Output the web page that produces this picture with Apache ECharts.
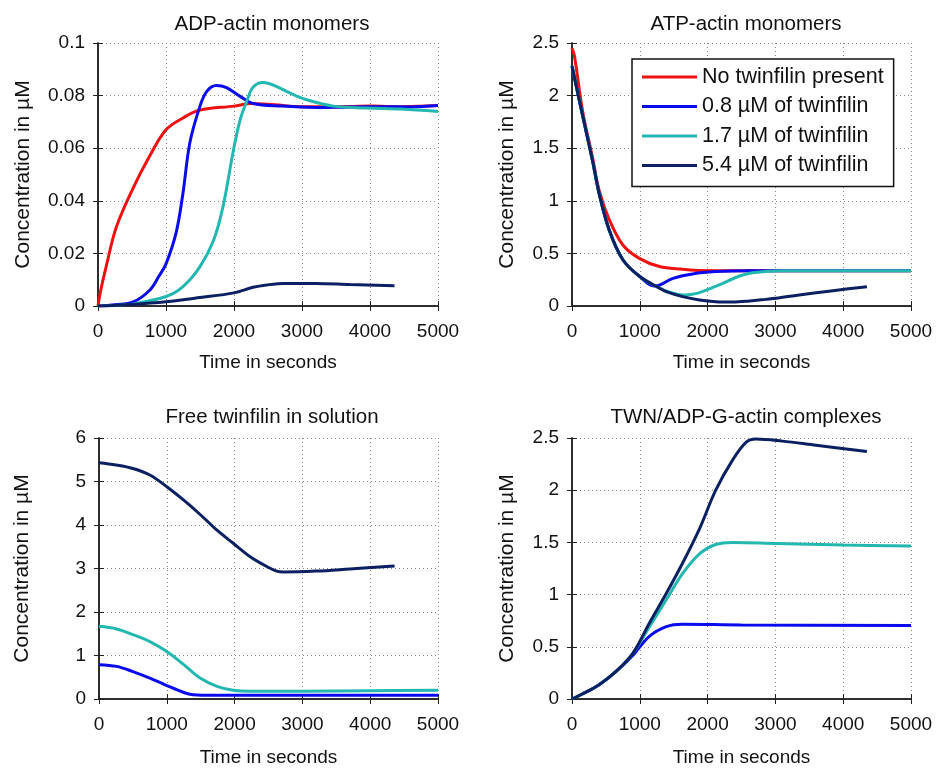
<!DOCTYPE html>
<html>
<head>
<meta charset="utf-8">
<script src="https://cdn.jsdelivr.net/npm/echarts@6/dist/echarts.min.js"></script>
<style>
html,body{margin:0;padding:0;background:#fff;}
#chart{width:936px;height:769px;}
</style>
</head>
<body>
<div id="chart"></div>
<script>
// ---- labels ----
var seriesNames = ['No twinfilin present', '0.8 \u00b5M of twinfilin', '1.7 \u00b5M of twinfilin', '5.4 \u00b5M of twinfilin'];
var panelTitles = ['ADP-actin monomers', 'ATP-actin monomers', 'Free twinfilin in solution', 'TWN/ADP-G-actin complexes'];
var xTicks = [0, 1000, 2000, 3000, 4000, 5000];
var yMax = [0.1, 2.5, 6, 2.5];
var yStep = [0.02, 0.5, 1, 0.5];

// ---- Panel 1: ADP-actin monomers [time s, conc uM] ----
var adpNone = [[0,0],[40,0.006],[120,0.015],[270,0.030],[520,0.045],[760,0.057],[1000,0.067],[1250,0.0715],[1500,0.0745],[2000,0.076],[2250,0.077],[2600,0.0765],[3000,0.0758],[3500,0.0758],[4000,0.076],[4500,0.0758],[5000,0.0762]];
var adp08 = [[0,0],[250,0.0005],[520,0.0016],[760,0.006],[900,0.0115],[1000,0.016],[1150,0.028],[1250,0.043],[1350,0.062],[1500,0.076],[1600,0.0816],[1740,0.0838],[1890,0.083],[2090,0.0797],[2280,0.077],[2700,0.076],[3200,0.0755],[3700,0.0757],[4200,0.0758],[4600,0.0757],[5000,0.0762]];
var adp17 = [[0,0],[250,0.0002],[520,0.0008],[1000,0.0036],[1250,0.0074],[1500,0.015],[1700,0.025],[1840,0.038],[1990,0.059],[2090,0.0708],[2190,0.078],[2280,0.0832],[2430,0.085],[2580,0.084],[2820,0.081],[3070,0.0784],[3460,0.076],[3950,0.0753],[4450,0.0749],[5000,0.074]];
var adp54 = [[0,0],[500,0.0006],[1000,0.0016],[1500,0.0032],[2000,0.005],[2280,0.0071],[2480,0.008],[2730,0.0086],[3200,0.0086],[3700,0.0082],[4360,0.0077]];

// ---- Panel 2: ATP-actin monomers ----
var atpNone = [[0,2.45],[35,2.38],[160,1.84],[300,1.42],[400,1.10],[550,0.82],[750,0.58],[1000,0.45],[1290,0.375],[1630,0.35],[1900,0.337],[2500,0.335],[5000,0.335]];
var atp08 = [[0,2.28],[160,1.80],[300,1.39],[400,1.07],[550,0.72],[750,0.44],[1000,0.28],[1210,0.19],[1300,0.2],[1490,0.263],[1780,0.305],[2120,0.327],[2600,0.336],[5000,0.336]];
var atp17 = [[0,2.28],[160,1.80],[300,1.39],[400,1.07],[550,0.72],[750,0.44],[1000,0.28],[1290,0.17],[1450,0.13],[1630,0.105],[1750,0.11],[1880,0.127],[2170,0.2],[2470,0.285],[2660,0.317],[3100,0.336],[5000,0.336]];
var atp54 = [[0,2.28],[160,1.80],[300,1.39],[400,1.07],[550,0.72],[750,0.44],[1000,0.28],[1290,0.17],[1390,0.136],[1630,0.089],[1880,0.057],[2120,0.041],[2370,0.038],[2620,0.048],[2860,0.063],[3010,0.073],[3350,0.105],[3850,0.146],[4350,0.184]];

// ---- Panel 3: Free twinfilin in solution ----
var free08 = [[0,0.79],[260,0.75],[500,0.63],[750,0.48],[1000,0.31],[1250,0.15],[1390,0.1],[1700,0.085],[5000,0.085]];
var free17 = [[0,1.67],[260,1.61],[500,1.48],[750,1.32],[1000,1.09],[1250,0.79],[1490,0.48],[1740,0.29],[1980,0.2],[2230,0.18],[3000,0.18],[4000,0.19],[5000,0.2]];
var free54 = [[0,5.43],[250,5.38],[500,5.30],[750,5.15],[1000,4.88],[1250,4.57],[1500,4.23],[1740,3.88],[1980,3.58],[2230,3.27],[2480,3.04],[2620,2.94],[2720,2.92],[3200,2.94],[3700,2.99],[4360,3.06]];

// ---- Panel 4: TWN/ADP-G-actin complexes ----
var twn08 = [[0,0],[160,0.05],[400,0.137],[650,0.264],[900,0.42],[1140,0.6],[1390,0.694],[1630,0.717],[2500,0.71],[5000,0.705]];
var twn17 = [[0,0],[160,0.05],[400,0.137],[650,0.264],[900,0.44],[1140,0.69],[1390,0.95],[1630,1.2],[1880,1.39],[2120,1.48],[2370,1.5],[3000,1.49],[4000,1.475],[5000,1.465]];
var twn54 = [[0,0],[160,0.05],[400,0.137],[650,0.264],[900,0.44],[1140,0.726],[1390,1.01],[1630,1.30],[1880,1.63],[2120,2.0],[2370,2.29],[2570,2.46],[2710,2.49],[3100,2.47],[3600,2.43],[4350,2.37]];

var colors = ['#ee1111', '#0a0aee', '#22b8b0', '#0b2060'];
var FONT = 'Liberation Sans, Arial, sans-serif';

var grids = [
  {left: 98, top: 43, width: 340, height: 263},
  {left: 572, top: 43, width: 339, height: 263},
  {left: 99, top: 438, width: 339, height: 261},
  {left: 572, top: 438, width: 339, height: 261}
];
var yNameGap = [64, 54, 66, 54];
var xNameGap = [47, 47, 49, 49];

var xAxes = [], yAxes = [];
grids.forEach(function (g, i) {
  g.containLabel = false;
  xAxes.push({
    type: 'value', gridIndex: i, min: 0, max: 5000, interval: 1000, position: 'bottom',
    name: 'Time in seconds', nameLocation: 'middle', nameGap: xNameGap[i],
    nameTextStyle: {fontSize: 19, color: '#111', fontFamily: FONT},
    axisLine: {show: true, lineStyle: {color: '#222', width: 1.5}},
    axisTick: {show: true, inside: true, length: 5, lineStyle: {color: '#222'}},
    axisLabel: {fontSize: 19, color: '#111', fontFamily: FONT, margin: 16, showMaxLabel: true, showMinLabel: true,
      formatter: function (v) { return String(v); }},
    splitLine: {show: true, lineStyle: {type: [1, 3], color: '#888', width: 1}}
  });
  xAxes.push({
    type: 'value', gridIndex: i, min: 0, max: 5000, interval: 1000, position: 'top',
    axisLine: {show: true, lineStyle: {color: '#222', width: 1.5}},
    axisTick: {show: true, inside: true, length: 5, lineStyle: {color: '#222'}},
    axisLabel: {show: false}, splitLine: {show: false}
  });
  yAxes.push({
    type: 'value', gridIndex: i, min: 0, max: yMax[i], interval: yStep[i], position: 'left',
    name: 'Concentration in \u00b5M', nameLocation: 'middle', nameGap: yNameGap[i],
    nameTextStyle: {fontSize: 21, color: '#111', fontFamily: FONT},
    axisLine: {show: true, lineStyle: {color: '#222', width: 1.5}},
    axisTick: {show: true, inside: true, length: 5, lineStyle: {color: '#222'}},
    axisLabel: {fontSize: 19, color: '#111', fontFamily: FONT, margin: 13,
      formatter: function (v) { return String(Math.round(v * 1000) / 1000); }},
    splitLine: {show: true, lineStyle: {type: [1, 3], color: '#888', width: 1}}
  });
  yAxes.push({
    type: 'value', gridIndex: i, min: 0, max: yMax[i], interval: yStep[i], position: 'right',
    axisLine: {show: true, lineStyle: {color: '#222', width: 1.5}},
    axisTick: {show: true, inside: true, length: 5, lineStyle: {color: '#222'}},
    axisLabel: {show: false}, splitLine: {show: false}
  });
});

function mk(nameIdx, panel, data) {
  return {
    type: 'line', name: seriesNames[nameIdx], xAxisIndex: panel * 2, yAxisIndex: panel * 2,
    data: data, symbol: 'none', showSymbol: false, smooth: 0.35,
    lineStyle: {width: 3, color: colors[nameIdx]}, itemStyle: {color: colors[nameIdx]},
    emphasis: {disabled: true}, silent: true, animation: false, z: 3
  };
}

var series = [
  mk(0, 0, adpNone), mk(1, 0, adp08), mk(2, 0, adp17), mk(3, 0, adp54),
  mk(0, 1, atpNone), mk(1, 1, atp08), mk(2, 1, atp17), mk(3, 1, atp54),
  mk(1, 2, free08), mk(2, 2, free17), mk(3, 2, free54),
  mk(1, 3, twn08), mk(2, 3, twn17), mk(3, 3, twn54)
];

var titleCenters = [[267, 9], [741, 9], [267, 402], [741, 402]];
var titles = panelTitles.map(function (t, i) {
  return {text: t, left: titleCenters[i][0], top: titleCenters[i][1], textAlign: 'center',
    textStyle: {fontSize: 20.5, fontWeight: 'normal', color: '#111', fontFamily: FONT}};
});

var chart = echarts.init(document.getElementById('chart'), null, {renderer: 'canvas'});
chart.setOption({
  backgroundColor: '#fff',
  animation: false,
  title: titles,
  grid: grids,
  xAxis: xAxes,
  yAxis: yAxes,
  legend: {
    data: seriesNames, orient: 'vertical', left: 632, top: 59,
    padding: [7, 10, 10, 10], itemWidth: 55, itemHeight: 3, itemGap: 7.5,
    icon: 'rect',
    backgroundColor: '#fff', borderColor: '#111', borderWidth: 1.5, borderRadius: 0,
    selectedMode: false, z: 10,
    textStyle: {fontSize: 21.5, color: '#111', fontFamily: FONT, lineHeight: 22}
  },
  series: series
});
</script>
</body>
</html>
